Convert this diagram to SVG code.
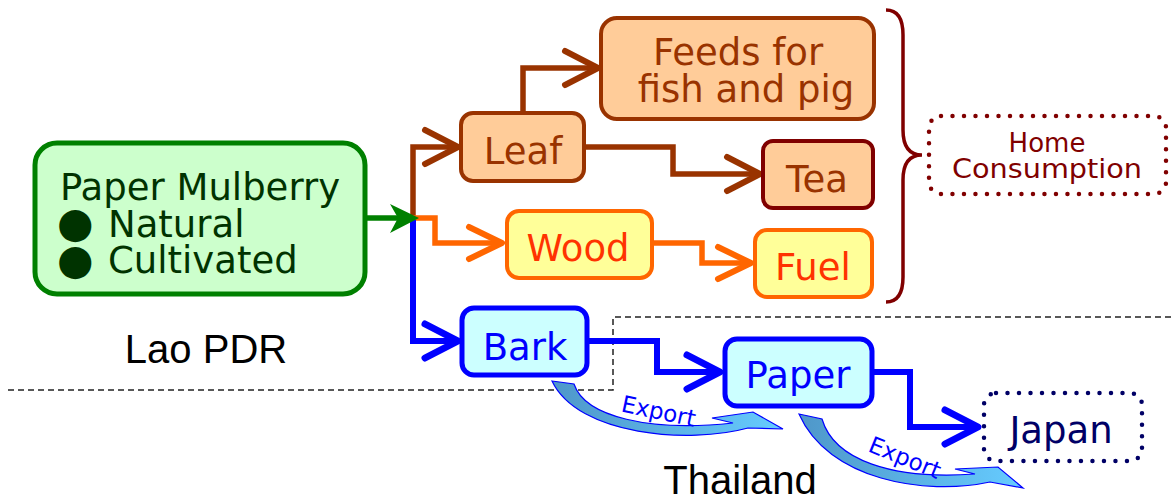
<svg xmlns="http://www.w3.org/2000/svg" width="1174" height="501" viewBox="0 0 1174 501">
<style>
.t{font-family:"DejaVu Sans","Noto Sans",sans-serif;text-anchor:middle}
.lbl{font-family:"Liberation Sans",Arial,sans-serif;font-size:40px;fill:#000;text-anchor:middle}
.conn{fill:none;stroke-width:5.5;stroke-linejoin:miter}
.br{stroke:#993300}
.or{stroke:#ff6600}
.bl{stroke:#0000ff;stroke-width:6}
.leafbox{fill:#ffcc99;stroke:#993300;stroke-width:4}
.woodbox{fill:#ffff99;stroke:#ff6600;stroke-width:4}
.barkbox{fill:#ccffff;stroke:#0000ff;stroke-width:5}
.dots{fill:none;stroke-width:4.5;stroke-linecap:round;stroke-dasharray:0 11.5}
.exp{stroke:#0000ff;stroke-width:1.2}
.expt{font-family:"DejaVu Sans","Noto Sans",sans-serif;font-size:23px;fill:#0000ff;text-anchor:middle}
</style>
<defs>
<marker id="mbr" markerUnits="userSpaceOnUse" viewBox="-40 -22 46 44" refX="0" refY="0" markerWidth="46" markerHeight="44" orient="auto" overflow="visible"><path d="M-33,-17 L0,0 L-33,17" fill="none" stroke="#993300" stroke-width="6" stroke-linecap="round" stroke-linejoin="round"/></marker>
<marker id="mor" markerUnits="userSpaceOnUse" viewBox="-40 -22 46 44" refX="0" refY="0" markerWidth="46" markerHeight="44" orient="auto" overflow="visible"><path d="M-33,-16 L0,0 L-33,16" fill="none" stroke="#ff6600" stroke-width="6" stroke-linecap="round" stroke-linejoin="round"/></marker>
<marker id="mbl" markerUnits="userSpaceOnUse" viewBox="-40 -22 46 44" refX="0" refY="0" markerWidth="46" markerHeight="44" orient="auto" overflow="visible"><path d="M-33,-17 L0,0 L-33,17" fill="none" stroke="#0000ff" stroke-width="7" stroke-linecap="round" stroke-linejoin="round"/></marker>
<linearGradient id="gexp" x1="0" y1="0" x2="1" y2="0">
<stop offset="0" stop-color="#4f97c9"/>
<stop offset="1" stop-color="#66ccff"/>
</linearGradient>
</defs>

<!-- region borders -->
<path d="M8,390 H613 V317 H1174" fill="none" stroke="#222" stroke-width="1.5" stroke-dasharray="6 4"/>
<text class="lbl" x="206" y="363">Lao PDR</text>
<text class="lbl" x="740" y="494" font-size="39">Thailand</text>

<g id="connectors">
<path class="conn br" d="M413,218 V147 H458" marker-end="url(#mbr)"/>
<path class="conn br" d="M523,113 V68 H598" marker-end="url(#mbr)"/>
<path class="conn br" d="M584,147 H673 V174 H760" marker-end="url(#mbr)"/>
<path class="conn or" d="M413,218 H435 V243 H502" marker-end="url(#mor)"/>
<path class="conn or" d="M652,243 H702 V263 H751" marker-end="url(#mor)"/>
<path class="conn bl" d="M413,220 V341 H458" marker-end="url(#mbl)"/>
<path class="conn bl" d="M587,341 H657 V372 H720" marker-end="url(#mbl)"/>
<path class="conn bl" d="M872,372 H910 V427 H978" marker-end="url(#mbl)"/>
<path d="M367,218 H398" fill="none" stroke="#008000" stroke-width="5.5"/>
<path d="M390,204 L419,218 L390,233 L398,218 Z" fill="#008000"/>
<!-- brace -->
<path d="M886,10 C898,10 903,20 903,35 L903,130 C903,148 910,155 922,155 C910,155 903,162 903,180 L903,277 C903,292 898,302 886,302" fill="none" stroke="#800000" stroke-width="3.5"/>
<!-- export arrows -->
<g id="export1">
<path class="exp" fill="url(#gexp)" d="M552,381 L574,384 C585,417 650,432 733,423 L712,418 L753,412 L783,429 L748,428 C690,444 578,436 552,381 Z"/>
<text class="expt" transform="translate(657,419) rotate(12)">Export</text>
</g>
<g id="export2">
<path class="exp" fill="url(#gexp)" d="M799,414 L822,419 C834,460 892,480 975,474 L955,469 L998,467 L1023,488 L990,482 C925,496 828,480 799,414 Z"/>
<text class="expt" transform="translate(902,465) rotate(22)">Export</text>
</g>
</g>

<g id="mulberry">
<rect x="35" y="143" width="330" height="151" rx="22" fill="#ccffcc" stroke="#008000" stroke-width="5"/>
<text class="t" x="200" y="200" font-size="37" fill="#003300">Paper Mulberry</text>
<text class="t" x="57" y="237" font-size="37" fill="#003300" style="text-anchor:start"><tspan font-size="42">●</tspan><tspan x="108">Natural</tspan></text>
<text class="t" x="57" y="274" font-size="37" fill="#003300" style="text-anchor:start"><tspan font-size="42">●</tspan><tspan x="108" dy="-1">Cultivated</tspan></text>
</g>
<g id="leaf">
<rect class="leafbox" x="461" y="113" width="123" height="68" rx="12"/>
<text class="t" x="523" y="164" font-size="37" fill="#993300">Leaf</text>
</g>
<g id="feeds">
<rect class="leafbox" x="601" y="18" width="273" height="101" rx="16"/>
<text class="t" x="738" y="65" font-size="37" fill="#993300">Feeds for</text>
<text class="t" x="746" y="102" font-size="37" fill="#993300">fish and pig</text>
</g>
<g id="tea">
<rect class="leafbox" x="763" y="141" width="110" height="67" rx="10" style="stroke:#800000"/>
<text class="t" x="817" y="192" font-size="37" fill="#993300">Tea</text>
</g>
<g id="wood">
<rect class="woodbox" x="507" y="211" width="145" height="67" rx="12"/>
<text class="t" x="578" y="261" font-size="37" fill="#ff3300">Wood</text>
</g>
<g id="fuel">
<rect class="woodbox" x="755" y="230" width="117" height="67" rx="12"/>
<text class="t" x="813" y="280" font-size="37" fill="#ff3300">Fuel</text>
</g>
<g id="bark">
<rect class="barkbox" x="462" y="308" width="125" height="67" rx="12"/>
<text class="t" x="525" y="360" font-size="37" fill="#0000ff">Bark</text>
</g>
<g id="paper">
<rect class="barkbox" x="725" y="339" width="147" height="67" rx="12"/>
<text class="t" x="798" y="388" font-size="37" fill="#0000ff">Paper</text>
</g>
<g id="japan">
<rect class="dots" x="984" y="393" width="158" height="68" rx="12" stroke="#000066"/>
<text class="t" x="1061" y="443" font-size="37" fill="#000066">Japan</text>
</g>
<g id="home">
<rect class="dots" x="929" y="116" width="237" height="78" rx="12" stroke="#800000"/>
<text class="t" x="1047" y="152" font-size="26" fill="#800000">Home</text>
<text class="t" x="1047" y="178" font-size="26" fill="#800000" textLength="190" lengthAdjust="spacingAndGlyphs">Consumption</text>
</g>
</svg>
